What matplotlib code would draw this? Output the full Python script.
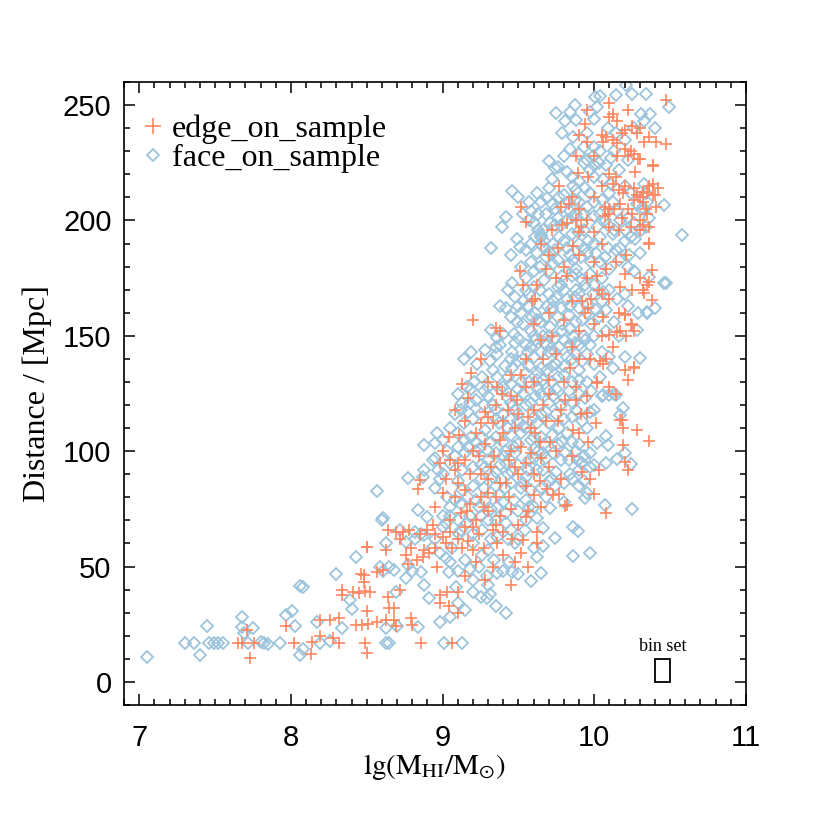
import matplotlib
matplotlib.use("Agg")
import matplotlib.pyplot as plt
from matplotlib.lines import Line2D
from matplotlib.patches import Rectangle
from matplotlib.ticker import MultipleLocator

# ---------------- data: (lg(M_HI/M_sun), Distance [Mpc]) ----------------
face_on = [
    # sparse low-mass tail
    (7.05, 11), (7.30, 16.8), (7.36, 16.8), (7.40, 11.7), (7.45, 24.3), (7.46, 16.8), (7.49, 16.8),
    (7.52, 16.8), (7.55, 16.8), (7.68, 28.3), (7.68, 23.8), (7.69, 21.2), (7.75, 23.4), (7.72, 16.8),
    (7.80, 17.5), (7.82, 16.8), (7.85, 16.6), (7.93, 16.8), (7.97, 29), (8.01, 30.9), (8.03, 24.3),
    (8.06, 41.7), (8.08, 41.2), (8.08, 14.2), (8.06, 11.7), (8.17, 26.1), (8.19, 16.8), (8.26, 17.9),
    (8.30, 46.6), (8.34, 23.2), (8.39, 35.5), (8.40, 31.6), (8.43, 54.3), (8.60, 70.2), (8.63, 60.1),
    (8.59, 50), (8.63, 23.4), (8.63, 16.8), (8.65, 16.8), (8.65, 50), (8.69, 39.1), (8.70, 24.3),
    (8.76, 44.9), (8.77, 50.7), (8.84, 24), (8.86, 47.8), (8.88, 42), (8.91, 36.3), (9.02, 53.6),
    (9.04, 47.8), (9.01, 16.8), (9.13, 16.8), (9.09, 41.2), (8.76, 60.5), (8.82, 62), (8.88, 63.7),
    (8.57, 82.9), (8.61, 70.9), (8.77, 88.3), (8.87, 89), (8.88, 102.7), (8.95, 103.4), (8.96, 107.7),
    (8.97, 91.9), (8.94, 96.2), (8.95, 84), (8.84, 74.5), (8.90, 71.6), (8.72, 65.9), (8.82, 65),
    (8.86, 64), (8.61, 48), (8.68, 48.5), (8.80, 48), (9.0, 72), (9.05, 76), (9.08, 79), (9.02, 69),
    (9.08, 116), (9.13, 121), (9.17, 117), (8.98, 56), (8.93, 58),
    (9.2, 39), (9.25, 37), (9.29, 36.4), (9.31, 38), (9.35, 33), (9.15, 31), (9.05, 28), (8.98, 26),
    (9.1, 34), (9.42, 30),
    # lower right
    (10.14, 124.3), (10.19, 118.6), (10.17, 115.7), (10.08, 106.6), (10.09, 102.7), (10.02, 103.5),
    (10.08, 94.8), (10.15, 96.5), (10.24, 94.4), (10.0, 94), (9.97, 93), (9.92, 95), (9.95, 81.7),
    (9.94, 79.8), (10.07, 76.7), (10.25, 75), (9.71, 75.2), (9.66, 66.6), (9.74, 62.3), (9.66, 59),
    (9.86, 67.3), (9.89, 65.6), (9.86, 54.6), (9.97, 55.8), (9.65, 47.1), (9.80, 86), (9.85, 88),
    (9.90, 85), (9.93, 87), (10.05, 124), (10.10, 124.5),
    # top
    (10.005, 253.6), (10.04, 254), (10.14, 254.3), (10.25, 255), (10.21, 258.7), (10.34, 255),
    (10.49, 249), (9.75, 246.7), (9.84, 247), (9.87, 250), (9.81, 243), (9.88, 243.5), (9.79, 238),
    (9.86, 236.3), (9.97, 247), (10.0, 244), (10.02, 249), (9.95, 238), (10.0, 232), (9.93, 232),
    (9.99, 228), (10.09, 240), (10.14, 238), (10.2, 235), (10.26, 240), (10.33, 243), (10.37, 246),
    (10.40, 240), (10.31, 246), (10.11, 227), (10.13, 230), (9.70, 225.9), (9.74, 222.6), (9.76, 223),
    (9.93, 225), (9.95, 226), (10.0, 224), (10.03, 225), (10.06, 218), (10.0, 219), (9.46, 212.7),
    (9.57, 208), (9.58, 204), (9.57, 200), (9.63, 203), (9.42, 201.6), (9.39, 197.3), (9.69, 209.7),
    (9.77, 210), (9.80, 211), (9.83, 208), (9.79, 206), (9.86, 215), (9.88, 213), (9.85, 219),
    (9.94, 214), (10.2, 215), (10.24, 212), (10.33, 216), (10.34, 212), (10.35, 208), (10.33, 205),
    (10.46, 206.7), (10.58, 193.7),
    (9.63, 196), (9.66, 196), (9.65, 193), (9.71, 199), (9.74, 198), (9.78, 198), (9.82, 200),
    (9.86, 202), (9.88, 203), (9.93, 203), (10.0, 202), (10.04, 203), (10.09, 198), (10.13, 196),
    (10.2, 196), (10.24, 193), (10.31, 196), (10.34, 197), (10.36, 201), (10.31, 205),
    # 175-195
    (9.32, 188), (9.51, 188.6), (9.58, 190), (9.61, 193), (9.65, 193.7), (9.66, 189), (9.73, 190),
    (9.8, 191), (9.85, 194), (9.89, 195), (9.96, 191), (10.04, 193), (10.12, 194), (10.2, 191),
    (10.27, 192), (9.58, 182), (9.64, 180), (9.70, 178), (9.76, 183), (9.83, 181), (9.91, 184),
    (9.98, 182), (10.07, 184), (10.16, 183), (10.22, 180), (10.26, 178), (10.46, 173), (10.36, 175.6),
    (10.47, 172.7),
    # 160-175
    (9.43, 170), (9.48, 167), (9.53, 165), (9.56, 163), (9.61, 160), (9.7, 168), (9.76, 171),
    (9.38, 163), (9.82, 166), (9.88, 170), (9.94, 172), (9.99, 168), (10.05, 165), (10.1, 170),
    (10.15, 166), (10.22, 163), (10.29, 160), (10.35, 160), (10.40, 162), (9.67, 174), (9.85, 176),
    (9.72, 162), (9.9, 162),
    # 145-160
    (9.32, 152.5), (9.36, 149), (9.45, 158), (9.49, 156), (9.53, 155), (9.58, 152), (9.62, 157),
    (9.66, 150), (9.71, 154), (9.76, 158), (9.8, 148), (9.84, 153), (9.88, 156), (9.93, 150),
    (9.98, 155), (10.03, 158), (10.08, 152), (10.16, 150), (10.28, 152.5), (10.35, 160.5),
    (9.55, 146), (9.69, 146), (9.9, 146),
    # 130-145
    (9.14, 140), (9.19, 143), (9.23, 138), (9.28, 144), (9.31, 139), (9.36, 142), (9.41, 137),
    (9.46, 143), (9.5, 139), (9.55, 134), (9.6, 141), (9.65, 136), (9.7, 143), (9.75, 138),
    (9.8, 133), (9.85, 140), (9.9, 135), (9.95, 142), (10.0, 138), (10.1, 141), (10.2, 141),
    (10.3, 140.3), (9.52, 130), (9.62, 131), (9.72, 130), (9.9, 131), (10.04, 132),
    # 115-130
    (9.10, 125), (9.16, 128), (9.22, 122), (9.27, 126), (9.33, 120), (9.38, 127), (9.43, 123),
    (9.48, 118), (9.53, 125), (9.58, 121), (9.63, 127), (9.68, 117), (9.73, 124), (9.78, 120),
    (9.83, 126), (9.88, 118), (9.94, 123), (10.06, 124.3), (10.13, 125), (10.0, 118), (9.25, 116),
    (9.4, 116), (9.6, 115),
    # 100-115
    (9.0, 105), (9.05, 110), (9.1, 102), (9.14, 112), (9.19, 106), (9.24, 101), (9.28, 109),
    (9.32, 104), (9.37, 112), (9.41, 100), (9.45, 107), (9.5, 103), (9.55, 110), (9.6, 101),
    (9.65, 106), (9.7, 112), (9.76, 103), (9.82, 108), (9.88, 100), (9.95, 110), (9.2, 114),
    (9.35, 99), (9.5, 113), (9.66, 99), (9.89, 96), (9.93, 98), (9.97, 99), (9.91, 95),
    # 85-100
    (8.88, 92), (8.95, 97), (9.0, 90), (9.05, 95), (9.1, 87), (9.15, 99), (9.2, 93), (9.25, 88),
    (9.3, 96), (9.35, 91), (9.4, 98), (9.45, 86), (9.5, 94), (9.55, 89), (9.6, 97), (9.66, 92),
    (9.72, 88), (9.78, 96), (9.84, 90), (10.2, 99),
    # 70-85
    (9.03, 80), (9.13, 83), (9.18, 72), (9.22, 79), (9.27, 84), (9.32, 75), (9.37, 81), (9.42, 73),
    (9.47, 79), (9.52, 84), (9.57, 76), (9.62, 71), (9.68, 80), (9.74, 85), (9.8, 78),
    # 55-70
    (8.95, 62), (9.0, 67), (9.06, 58), (9.11, 64), (9.16, 69), (9.2, 60), (9.26, 66), (9.3, 57),
    (9.36, 63), (9.42, 69), (9.48, 60), (9.54, 66), (9.6, 58),
    # 40-55
    (9.1, 48), (9.15, 53), (9.2, 44), (9.24, 50), (9.29, 46), (9.34, 53), (9.4, 48), (9.46, 47.7),
    (9.5, 46.8), (9.58, 43.8), (9.62, 54),
    # dense core, second layer
    (9.62, 212), (9.7, 214), (9.74, 205), (9.9, 208), (9.97, 212), (10.05, 209), (10.1, 212),
    (10.15, 204), (9.92, 199), (10.02, 197), (9.68, 203), (10.17, 200),
    (9.45, 185), (9.52, 180), (9.55, 175), (9.62, 186), (9.68, 184), (9.74, 187), (9.79, 176),
    (9.84, 185), (9.88, 179), (9.93, 188), (9.97, 177), (10.01, 186), (10.05, 175), (10.1, 179),
    (10.14, 187), (9.6, 171), (9.78, 172), (9.92, 174),
    (9.42, 162), (9.47, 151), (9.52, 160), (9.57, 168), (9.63, 164), (9.68, 158), (9.73, 165),
    (9.78, 162), (9.83, 159), (9.87, 167), (9.92, 157), (9.96, 164), (10.01, 161), (10.06, 169),
    (9.6, 150), (9.74, 149), (9.86, 150),
    (9.26, 132), (9.33, 135), (9.38, 146), (9.43, 132), (9.48, 147), (9.53, 140), (9.58, 145),
    (9.63, 134), (9.67, 147), (9.72, 137), (9.77, 145), (9.82, 141), (9.87, 147), (9.92, 139),
    (9.97, 146), (9.4, 128), (9.5, 127), (9.65, 125), (9.75, 127), (9.85, 130), (9.98, 126),
    (9.12, 118), (9.18, 121), (9.3, 124), (9.35, 118), (9.45, 121), (9.5, 116), (9.55, 120),
    (9.62, 112), (9.7, 121), (9.75, 116), (9.8, 114), (9.86, 121), (9.92, 113), (9.26, 106),
    (9.4, 104), (9.58, 105), (9.72, 107), (9.85, 104), (9.17, 102), (9.43, 110), (9.63, 100),
    (9.08, 98), (9.13, 92), (9.22, 100), (9.28, 93), (9.38, 94), (9.43, 90), (9.48, 99), (9.53, 86),
    (9.62, 92), (9.68, 97), (9.75, 91), (9.81, 99), (9.2, 85), (9.35, 85), (9.58, 83), (9.9, 92),
    (9.05, 72), (9.12, 77), (9.25, 72), (9.35, 70), (9.4, 78), (9.45, 66), (9.55, 79), (9.2, 64),
    (9.32, 62), (9.5, 62),
    # dense core, third layer
    (9.8, 228), (9.84, 231), (9.9, 229), (9.97, 222), (10.04, 230), (10.08, 224), (10.16, 222),
    (10.22, 226), (9.72, 218), (9.82, 221), (9.9, 217), (10.11, 216),
    (9.6, 199), (9.65, 208), (9.72, 207), (9.76, 201), (9.84, 204), (9.87, 209), (9.95, 206),
    (10.0, 208), (10.07, 200), (10.12, 208), (10.22, 201), (10.28, 207), (9.53, 203), (9.5, 210),
    (9.93, 196), (10.26, 199),
    (9.49, 192), (9.55, 187), (9.6, 178), (9.67, 191), (9.71, 186), (9.77, 193), (9.82, 188),
    (9.86, 183), (9.9, 190), (9.95, 186), (10.0, 190), (10.04, 182), (10.09, 188), (10.17, 188),
    (10.23, 185), (10.3, 186), (9.73, 181), (9.88, 177),
    (9.46, 173), (9.5, 163), (9.55, 170), (9.59, 158), (9.64, 170), (9.69, 163), (9.75, 167),
    (9.8, 170), (9.84, 163), (9.9, 168), (9.95, 160), (10.0, 172), (10.08, 161), (10.13, 156),
    (10.2, 168), (9.65, 156), (9.79, 155),
    (9.35, 145), (9.4, 151), (9.45, 140), (9.5, 149), (9.56, 143), (9.61, 148), (9.65, 143),
    (9.7, 150), (9.74, 143), (9.79, 152), (9.83, 146), (9.88, 142), (9.94, 148), (10.0, 150),
    (10.05, 143), (10.12, 136), (9.57, 137), (9.69, 135), (9.8, 137), (9.46, 136),
    (9.21, 130), (9.3, 128), (9.36, 132), (9.45, 129), (9.5, 122), (9.57, 130), (9.61, 124),
    (9.66, 131), (9.7, 126), (9.76, 132), (9.8, 123), (9.9, 125), (9.95, 130), (9.35, 114),
    (9.45, 114), (9.53, 111), (9.65, 116), (9.77, 110), (9.85, 115), (9.97, 117), (9.27, 120),
    (9.19, 127),
    (9.1, 108), (9.15, 105), (9.22, 104), (9.3, 100), (9.35, 106), (9.42, 95), (9.47, 102),
    (9.52, 108), (9.57, 96), (9.6, 106), (9.67, 103), (9.73, 99), (9.79, 104), (9.83, 96),
    (9.9, 103), (9.25, 94), (9.33, 89), (9.46, 91), (9.56, 92), (9.7, 87), (9.03, 100), (8.98, 88),
    (9.1, 70), (9.17, 80), (9.24, 76), (9.3, 70), (9.36, 76), (9.41, 84), (9.5, 74), (9.55, 70),
    (9.6, 76), (9.65, 84), (9.28, 79), (9.12, 66), (9.43, 62),
    (9.05, 52), (9.18, 49), (9.26, 55), (9.36, 47), (9.44, 52), (9.3, 42),
]

edge_on = [
    # sparse low-mass tail
    (7.73, 10.3), (7.65, 16.8), (7.68, 16.8), (7.76, 16.8), (7.71, 22.5), (7.97, 24.3), (8.02, 16.8),
    (8.13, 12), (8.14, 17.5), (8.19, 26.9), (8.19, 20), (8.26, 26.9), (8.32, 27.6), (8.28, 18.9),
    (8.32, 16.8), (8.34, 37.7), (8.34, 39.9), (8.41, 39), (8.45, 38.5), (8.49, 39.5), (8.52, 39),
    (8.48, 43.5), (8.48, 46.4), (8.46, 46.8), (8.50, 58.4), (8.50, 30.9), (8.43, 24.5), (8.47, 24.8),
    (8.51, 25.2), (8.49, 16.8), (8.50, 12.7), (8.57, 47.8), (8.61, 48.6), (8.57, 26), (8.63, 26.9),
    (8.68, 26.9), (8.64, 36.7), (8.65, 32), (8.68, 32), (8.69, 24.3), (8.63, 57.2), (8.72, 40),
    (8.79, 27.6), (8.80, 24.7), (8.86, 16.8), (8.96, 50), (8.98, 37.7), (9.03, 39), (9.10, 39),
    (8.98, 34), (9.04, 33), (9.10, 30), (9.06, 16.8),
    (8.77, 51), (8.76, 55), (8.79, 58), (8.83, 53), (8.87, 54), (8.91, 56), (8.95, 58), (9.02, 60),
    (9.06, 58), (8.72, 62), (8.74, 65), (8.78, 66), (8.85, 64), (8.9, 66), (8.95, 64), (9.0, 63),
    (9.05, 65), (8.50, 58.6), (8.64, 66), (8.69, 65), (8.84, 83.5), (8.85, 87.5), (9.04, 106.3),
    (9.0, 100), (8.98, 95), (9.05, 96), (8.88, 57), (8.94, 68), (9.13, 58), (9.17, 61), (9.2, 57),
    (9.08, 80), (9.1, 86), (9.15, 83), (9.18, 77), (9.16, 74),
    # right side
    (10.02, 129.4), (10.18, 113.5), (10.19, 110), (10.28, 109.2), (10.36, 104.6), (10.19, 102.7),
    (10.20, 95.5), (10.22, 91.9), (9.92, 91), (10.0, 81.4), (9.81, 76.3), (10.08, 73), (9.73, 81),
    (9.77, 81.5), (9.69, 83.5), (9.65, 76), (9.82, 76.7), (9.55, 71.6), (9.53, 61.5), (9.88, 122),
    (9.95, 116.4), (10.17, 113.5),
    (10.29, 226.5), (10.39, 224), (10.42, 213.9), (10.39, 216), (10.39, 211), (10.32, 212.5),
    (10.41, 206), (10.30, 200), (10.35, 203), (10.32, 198), (10.36, 197), (10.34, 205), (10.36, 190),
    (10.21, 185), (10.38, 178.5), (10.30, 175), (10.35, 172), (10.33, 168.6), (10.38, 165.5),
    (10.20, 159.4), (10.17, 152), (10.21, 150), (10.24, 155), (10.26, 152), (10.26, 136),
    (10.04, 139), (10.06, 138), (10.08, 140), (10.03, 170), (10.05, 168),
    # top
    (10.47, 252.2), (9.95, 247.8), (10.1, 251), (10.12, 246), (10.15, 243), (10.18, 238), (10.2, 239),
    (10.25, 241), (10.28, 238), (10.3, 240), (10.05, 237), (10.08, 236), (10.12, 235), (9.95, 234),
    (10.06, 234), (10.15, 233.5), (10.33, 234), (10.36, 236), (10.41, 234), (10.47, 233), (10.2, 231),
    (10.24, 230), (10.22, 228), (10.26, 229), (10.30, 226.8), (10.39, 223.6), (10.1, 220),
    (10.14, 219), (10.12, 216), (10.2, 215), (10.16, 213), (10.19, 212), (10.26, 214), (10.28, 211),
    (10.26, 209), (10.3, 210), (10.32, 208), (10.36, 215), (10.35, 212), (10.4, 211), (9.77, 215),
    (9.89, 220.5), (9.96, 219), (10.07, 206), (10.17, 207), (10.22, 205), (10.13, 205), (9.52, 206),
    (9.55, 199.4), (9.78, 206), (9.83, 207), (9.9, 205), (10.07, 202), (10.09, 203), (10.18, 201),
    (10.25, 203), (9.79, 198), (9.82, 199), (9.88, 200), (9.91, 197), (10.1, 197), (10.16, 196),
    (10.24, 197), (10.3, 196),
    # middle
    (10.36, 190.3), (10.36, 173.5), (10.32, 170), (10.20, 159), (10.25, 154.7), (10.15, 151.8),
    (10.10, 150.3), (10.26, 136.6), (10.0, 182), (10.02, 176), (10.08, 179), (10.14, 182),
    (10.17, 171), (10.1, 166), (9.98, 166), (9.94, 160), (9.51, 178), (9.53, 172), (9.68, 179),
    (9.59, 165), (9.61, 166), (9.20, 157), (9.35, 153.4), (9.38, 152),
    (9.19, 134), (9.25, 140), (9.36, 128), (9.49, 122), (9.66, 140), (9.84, 136), (9.97, 140),
    (10.02, 130), (10.1, 128), (10.14, 125), (10.2, 135), (10.22, 131),
    (9.85, 165), (9.92, 165), (9.96, 162), (9.82, 176), (9.75, 175), (9.7, 185), (9.76, 188),
    (9.86, 189), (10.06, 158), (10.12, 145), (10.16, 160), (10.05, 150),
    (9.22, 108), (9.28, 117), (9.33, 112), (9.38, 105), (9.43, 118), (9.48, 110), (9.52, 102),
    (9.56, 115), (9.61, 108), (9.66, 120), (9.71, 104), (9.76, 113), (9.81, 122), (9.86, 109),
    (9.91, 116), (9.96, 104), (10.01, 112), (9.39, 125), (9.55, 128), (9.7, 131), (9.88, 128),
    (9.1, 95), (9.18, 90), (9.24, 98), (9.32, 93), (9.38, 86), (9.44, 96), (9.5, 90), (9.58, 99),
    (9.64, 87), (9.7, 93), (9.78, 88), (9.85, 98), (9.97, 88), (10.03, 92),
    (9.22, 70), (9.27, 76), (9.33, 66), (9.38, 72), (9.44, 80), (9.5, 68), (9.56, 74), (9.62, 65),
    (9.3, 82), (9.46, 62), (9.6, 81), (9.24, 64), (9.36, 60), (9.52, 56),
    (9.15, 46), (9.22, 52), (9.28, 44), (9.33, 50), (9.4, 55), (9.45, 42), (9.56, 50),
    (9.13, 129), (9.17, 123), (9.08, 118), (9.15, 113), (9.11, 107),
    # core, extra
    (9.72, 196), (9.95, 200), (10.0, 210), (9.85, 210), (10.05, 215), (10.0, 228), (9.9, 237),
    (10.1, 245), (10.22, 248), (10.27, 221), (9.65, 190), (9.8, 180), (9.9, 185), (9.95, 175),
    (10.05, 190), (10.2, 177), (10.25, 170), (9.6, 155), (9.7, 160), (9.8, 157), (9.9, 152),
    (10.0, 155), (9.55, 140), (9.65, 148), (9.75, 142), (9.9, 140), (9.45, 133), (9.6, 118),
    (9.7, 125), (9.8, 130), (9.95, 124), (9.3, 130), (9.45, 100), (9.55, 95), (9.65, 97),
    (9.75, 100), (9.9, 108), (9.4, 113), (9.25, 90), (9.35, 80), (9.45, 75), (9.55, 85), (9.15, 67),
    (9.27, 58), (9.4, 65), (9.48, 52), (9.62, 60), (9.2, 100), (9.3, 115), (9.6, 130), (10.1, 205),
    (10.15, 228),
    (9.05, 70), (9.1, 62), (9.12, 73), (9.2, 67), (9.25, 80), (9.3, 74), (9.35, 68), (9.42, 86),
    (9.48, 93), (9.28, 103), (9.34, 98), (9.4, 108), (9.5, 116), (9.58, 110), (9.64, 104),
    (9.45, 124), (9.52, 133), (9.35, 120), (9.25, 112), (9.15, 96), (9.02, 88), (8.95, 76),
    (9.0, 82), (9.08, 92), (9.3, 88), (9.6, 90), (9.68, 113), (9.78, 118), (9.72, 150), (9.85, 145),
    (9.62, 172), (9.9, 195), (10.0, 195), (9.88, 228), (9.94, 242),
]

series_labels = ["edge_on_sample", "face_on_sample"]
x_ticks = [7, 8, 9, 10, 11]
y_ticks = [0, 50, 100, 150, 200, 250]
bin_set = (10.4, 0.0, 0.1, 10.0)   # x0, y0, width, height of the bin box

edge_col = "#FF8660"
face_col = "#9CC4DD"

plt.rcParams["mathtext.fontset"] = "stix"
serif = ["Liberation Serif", "DejaVu Serif"]
sans = ["Liberation Sans", "DejaVu Sans"]

fig = plt.figure(figsize=(8.3, 8.3), dpi=100)
ax = fig.add_axes([0.1494, 0.1506, 0.7494, 0.7506])

fx = [p[0] for p in face_on]
fy = [p[1] for p in face_on]
ex = [p[0] for p in edge_on]
ey = [p[1] for p in edge_on]

ax.plot(fx, fy, linestyle="none", marker="D", markersize=5.7, markerfacecolor="none",
        markeredgecolor=face_col, markeredgewidth=1.3, zorder=2)
ax.plot(ex, ey, linestyle="none", marker="+", markersize=8, markeredgecolor=edge_col,
        markeredgewidth=1.2, zorder=3)

x0, y0, w, h = bin_set
ax.add_patch(Rectangle((x0, y0), w, h, fill=False, edgecolor="black", linewidth=1.3, zorder=4))
ax.text(x0 + w / 2, y0 + h + 1.5, "bin set", ha="center", va="bottom", fontsize=13, family=serif)

ax.set_xlim(6.9, 11.0)
ax.set_ylim(-10, 260)
ax.set_xticks(x_ticks)
ax.set_yticks(y_ticks)
ax.xaxis.set_minor_locator(MultipleLocator(0.1))
ax.yaxis.set_minor_locator(MultipleLocator(10))
ax.tick_params(which="both", direction="in", top=True, right=True, width=1.1, colors="black")
ax.tick_params(which="major", length=8, pad=9, labelsize=21)
ax.tick_params(axis="x", which="major", pad=14)
ax.tick_params(which="minor", length=4.5)
for lab in ax.get_xticklabels() + ax.get_yticklabels():
    lab.set_family(sans)
for s in ax.spines.values():
    s.set_linewidth(1.2)

ax.set_xlabel(r"$\mathrm{lg(M_{HI}/M_{\odot})}$", fontsize=21, labelpad=0)
ax.set_ylabel("Distance / [Mpc]", fontsize=23, family=serif, labelpad=8)

handles = [
    Line2D([], [], linestyle="none", marker="+", markersize=11, markeredgecolor=edge_col,
           markeredgewidth=1.2),
    Line2D([], [], linestyle="none", marker="D", markersize=6.5, markerfacecolor="none",
           markeredgecolor=face_col, markeredgewidth=1.3),
]
ax.legend(handles, series_labels, loc="upper left", frameon=False, prop={"family": serif, "size": 23},
          handlelength=0.6, handletextpad=0.3, labelspacing=-0.025, borderaxespad=0.2,
          bbox_to_anchor=(0.0, 0.978))

fig.savefig("out.png", dpi=100)
